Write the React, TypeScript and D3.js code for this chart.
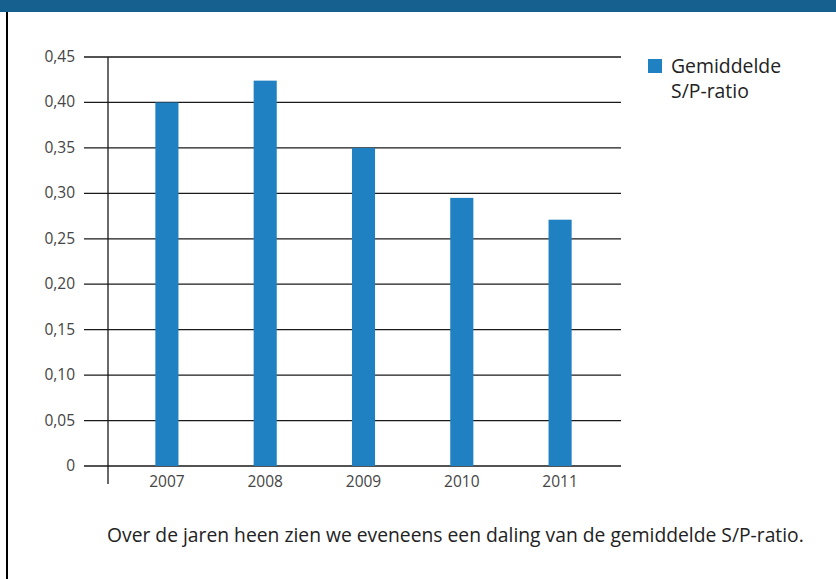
// Libraries
import { useEffect } from 'react';
import * as d3 from 'd3';

const years = ['2007', '2008', '2009', '2010', '2011'];
const ratios = [0.4, 0.424, 0.35, 0.295, 0.271];
const yTicks = [0, 0.05, 0.1, 0.15, 0.2, 0.25, 0.3, 0.35, 0.4, 0.45];
const legendLabel = ['Gemiddelde', 'S/P-ratio'];
const caption = 'Over de jaren heen zien we eveneens een daling van de gemiddelde S/P-ratio.';

const width = 836;
const height = 579;
const chartId = 'SP-Chart';
const font = '"Open Sans", "Noto Sans", sans-serif';
const barColor = '#1f81c1';

function drawChart() {
    const svg = d3.select(`#${chartId}`);
    svg.selectAll('*').remove();

    // header band + left rule
    svg.append('rect')
      .attr('x', 0).attr('y', 0)
      .attr('width', width).attr('height', 12)
      .attr('fill', '#15608f');
    svg.append('line')
      .attr('x1', 7).attr('x2', 7)
      .attr('y1', 12).attr('y2', height)
      .attr('stroke', '#000')
      .attr('stroke-width', 2);

    const y = d3.scaleLinear().domain([0, 0.45]).range([466, 57]);
    const x = d3.scaleBand().domain(years).range([118, 609]).paddingInner(0.765).paddingOuter(0.38);

    // gridlines
    svg.append('g')
      .selectAll('line')
      .data(yTicks)
      .join('line')
      .attr('x1', 84)
      .attr('x2', 621)
      .attr('y1', d => y(d))
      .attr('y2', d => y(d))
      .attr('stroke', '#1a1a1a')
      .attr('stroke-width', 1.3);

    // y tick labels
    svg.append('g')
      .selectAll('text')
      .data(yTicks)
      .join('text')
      .attr('x', 75)
      .attr('y', d => y(d) + 5)
      .attr('text-anchor', 'end')
      .attr('font-family', font)
      .attr('font-size', 15.5)
      .attr('fill', '#444')
      .text(d => d === 0 ? '0' : d3.format('.2f')(d).replace('.', ','));

    // vertical axis
    svg.append('line')
      .attr('x1', 108).attr('x2', 108)
      .attr('y1', y(0.45)).attr('y2', 484)
      .attr('stroke', '#1a1a1a')
      .attr('stroke-width', 1.3);

    // bars
    svg.append('g')
      .selectAll('rect')
      .data(ratios)
      .join('rect')
      .attr('x', (d, i) => x(years[i]) as number)
      .attr('width', x.bandwidth())
      .attr('y', d => y(d))
      .attr('height', d => y(0) - y(d))
      .attr('fill', barColor);

    // x labels
    svg.append('g')
      .selectAll('text')
      .data(years)
      .join('text')
      .attr('x', d => (x(d) as number) + x.bandwidth() / 2)
      .attr('y', 487)
      .attr('text-anchor', 'middle')
      .attr('font-family', font)
      .attr('font-size', 15.5)
      .attr('fill', '#444')
      .text(d => d);

    // legend
    svg.append('rect')
      .attr('x', 648).attr('y', 59)
      .attr('width', 14).attr('height', 14)
      .attr('fill', barColor);
    svg.append('g')
      .selectAll('text')
      .data(legendLabel)
      .join('text')
      .attr('x', 671)
      .attr('y', (d, i) => 73 + i * 25)
      .attr('font-family', font)
      .attr('font-size', 19.4)
      .attr('fill', '#222')
      .text(d => d);

    // caption
    svg.append('text')
      .attr('x', 107)
      .attr('y', 542)
      .attr('font-family', font)
      .attr('font-size', 19.3)
      .attr('fill', '#222')
      .text(caption);
}

export default function App() {
    useEffect(() => {
        drawChart();
    }, []);

    return (
        <svg id={chartId} width={width} height={height}
             style={{ position: 'absolute', left: 0, top: 0, background: '#fff' }}></svg>
    );
}
